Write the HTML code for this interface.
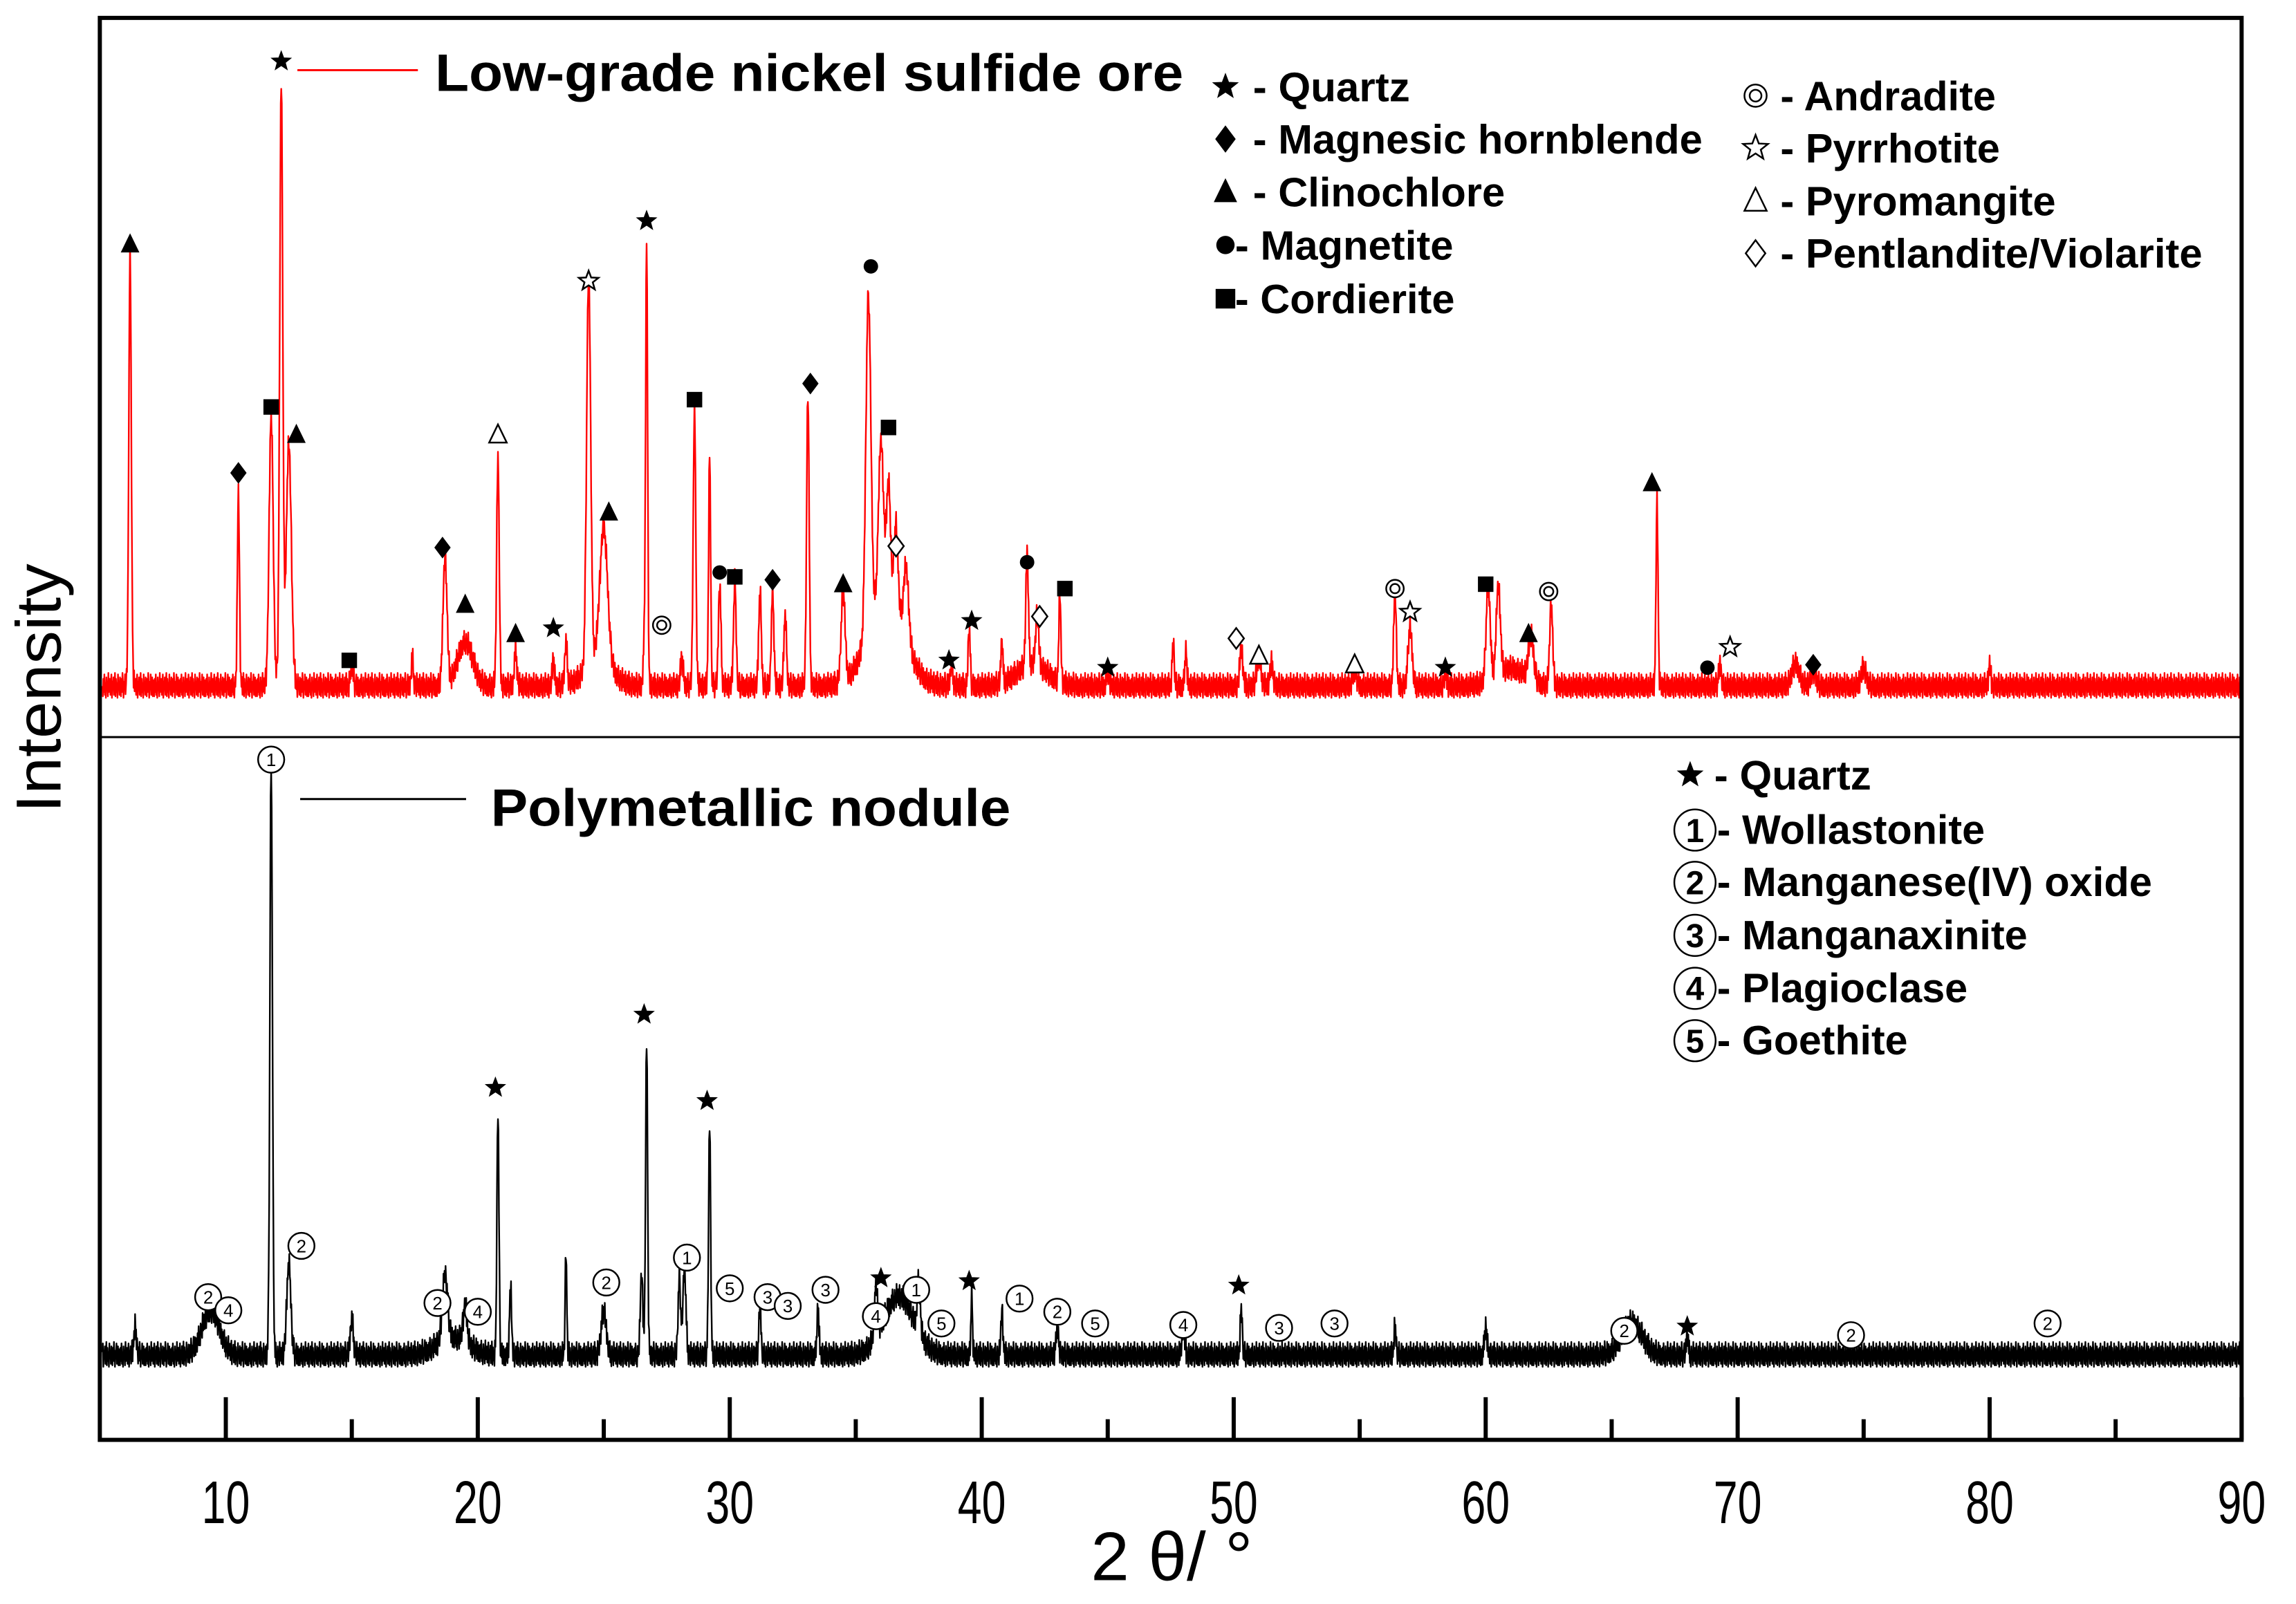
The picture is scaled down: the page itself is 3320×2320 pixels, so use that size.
<!DOCTYPE html>
<html><head><meta charset="utf-8"><style>
html,body{margin:0;padding:0;background:#fff;}
svg{display:block;}
text{font-family:"Liberation Sans Narrow","Liberation Sans",sans-serif;}
</style></head><body>
<svg id="chart" width="3320" height="2320" viewBox="0 0 3320 2320" xmlns="http://www.w3.org/2000/svg">
<g transform="scale(0.9955)">
<g id="plot"></g>
<rect x="145" y="26" width="3111" height="2066" fill="none" stroke="#000" stroke-width="6"/>
<line x1="145" y1="1071" x2="3256" y2="1071" stroke="#000" stroke-width="3"/>
<g id="xaxis"></g>
<text x="1702" y="2296" font-size="100" text-anchor="middle" textLength="235" lengthAdjust="spacingAndGlyphs" font-family="Liberation Sans, sans-serif">2 θ/ °</text>
<text x="0" y="0" font-size="92" text-anchor="middle" transform="translate(88,1000) rotate(-90)" textLength="362" lengthAdjust="spacingAndGlyphs" font-family="Liberation Sans, sans-serif">Intensity</text>
<g font-weight="bold">
 <line x1="432" y1="102" x2="607" y2="102" stroke="#f00" stroke-width="3"/>
 <text x="632" y="132" font-size="76" textLength="1087" lengthAdjust="spacingAndGlyphs">Low-grade nickel sulfide ore</text>
</g>
<g font-weight="bold">
 <line x1="436" y1="1161" x2="677" y2="1161" stroke="#000" stroke-width="3"/>
 <text x="713" y="1200" font-size="76" textLength="755" lengthAdjust="spacingAndGlyphs">Polymetallic nodule</text>
</g>
<g id="phaseLegend" font-weight="bold" font-size="60"></g>
<g id="marks"></g>
</g>
</svg>
<script>
const NS="http://www.w3.org/2000/svg";
// ---- data ----
const xTicks=[10,20,30,40,50,60,70,80,90];
const xMinor=[15,25,35,45,55,65,75,85];
const redPos=[6.2,10.5,11.8,12.2,12.5,15,17.4,18.7,19.5,20.8,21.5,23,23.5,24.4,25,26.6,26.7,28.1,28.6,29.2,29.6,30.2,31.2,31.7,32.2,33.1,34.5,35.5,36,36.3,36.6,37,38.8,39.5,40.8,41.8,42.2,43.1,45,47.6,48.1,50.3,51,51.5,54.8,56.4,57,58.4,60.1,60.5,61.8,62.6,66.8,69.3,72.3,73,75,80];
const redHeight=[295,133,185,413,165,15,20,87,30,157,25,20,30,267,90,25,303,20,190,158,70,72,65,65,50,200,60,230,110,80,60,50,15,40,30,78,35,60,10,30,25,25,20,15,10,65,40,8,65,60,30,55,125,15,15,10,12,15];
const redWidth=[0.05,0.04,0.08,0.06,0.1,0.05,0.04,0.08,0.3,0.05,0.05,0.04,0.05,0.08,0.15,0.04,0.04,0.05,0.05,0.04,0.05,0.05,0.05,0.05,0.05,0.05,0.08,0.1,0.1,0.08,0.08,0.1,0.05,0.04,0.04,0.05,0.06,0.04,0.05,0.04,0.04,0.06,0.08,0.06,0.08,0.05,0.08,0.05,0.08,0.08,0.1,0.06,0.04,0.05,0.15,0.1,0.1,0.04];
const redBroadPos=[36.2,24.8,42,61];
const redBroadHeight=[60,20,15,12];
const redBroadWidth=[0.7,0.5,0.6,0.6];
const blackPos=[6.4,11.8,12.5,15,18.7,19.5,20.8,21.3,23.5,25,26.5,26.7,28,28.2,29.2,31.2,33.5,35.8,37.5,39.6,40.8,43,48,50.3,56.4,60,68];
const blackHeight=[20,405,63,25,45,25,168,47,73,30,55,216,52,60,160,35,33,35,35,43,30,20,20,32,20,20,15];
const blackWidth=[0.05,0.05,0.08,0.06,0.1,0.08,0.04,0.04,0.03,0.1,0.05,0.04,0.05,0.06,0.04,0.04,0.04,0.06,0.06,0.03,0.04,0.05,0.05,0.04,0.04,0.05,0.04];
const blackBroadPos=[9.4,36.7,65.8,19];
const blackBroadHeight=[30,40,22,12];
const blackBroadWidth=[0.35,0.6,0.4,0.6];
const noise=[9,2,14,5,17,3,11,1,15,7,12,2,18,5,9,14,3,11,17,1,12,7,15,3,9,18,2,14,5,11,1,17,7,12,3,15,9,2,14,5,18,11,1,12,7,17,3,9,15,2,13];
const redMarkPos=[6.2,10.5,11.8,12.2,12.8,14.9,18.6,19.5,21.5,23,20.8,24.4,25.2,27.3,26.7,28.6,29.6,30.2,31.7,33.2,34.5,35.6,36.3,36.6,38.7,39.6,41.8,42.3,43.3,45,50.1,51,54.8,56.4,57,58.4,60,61.7,62.5,66.6,68.8,69.7,73];
const redMarkType=["tri","dia","sq","star","tri","sq","dia","tri","tri","star","otri","ostar","tri","dcirc","star","sq","dot","sq","dia","dia","tri","dot","sq","odia","star","star","dot","odia","sq","star","odia","otri","otri","dcirc","ostar","star","sq","tri","dcirc","tri","dot","ostar","dia"];
const redMarkLevel=[304,148,193,429,174,20,97,58,38,42,174,279,121,44,320,198,80,77,75,209,72,289,179,98,20,47,87,50,69,15,35,23,17,69,53,15,72,38,67,141,15,29,17];
const blackMarkPos=[9.3,10.1,11.8,13,18.4,20,25.1,28.3,30,31.5,32.3,33.8,35.8,37.4,38.4,41.5,43,44.5,48,51.8,54,65.5,74.5,82.3];
const blackMarkNum=["2","4","1","2","2","4","2","1","5","3","3","3","4","1","5","1","2","5","4","3","3","2","2","2"];
const blackMarkLevel=[42,33,409,77,38,32,52,69,48,42,36,47,29,47,24,41,32,24,23,21,24,19,16,24];
const blackStarPos=[20.7,26.6,29.1,36,39.5,50.2,68];
const blackStarLevel=[185,235,176,55,53,50,22];
// ---- scales ----
const S=2.128;
const X=v=>145+(v-5)*(3111/85);
const Yred=v=>1016-v*S;
const Yblk=v=>1988-v*S;
function mk(tag,attrs,parent){const e=document.createElementNS(NS,tag);for(const k in attrs)e.setAttribute(k,attrs[k]);parent.appendChild(e);return e;}
function curve(pos,h,w,bp,bh,bw,x){
  let y=0;
  for(let i=0;i<pos.length;i++){const d=(x-pos[i])/w[i];if(Math.abs(d)<6)y+=h[i]*Math.exp(-0.5*d*d);}
  for(let i=0;i<bp.length;i++){const d=(x-bp[i])/bw[i];if(Math.abs(d)<6)y+=bh[i]*Math.exp(-0.5*d*d);}
  return y;
}
const plot=document.getElementById('plot');
function drawSeries(name,color,Y,pos,h,w,bp,bh,bw,offset){
  let d="";let k=0;
  for(let x=5.1;x<=90;x+=0.02){
    const n=noise[(k+offset)%noise.length];k++;
    const y=curve(pos,h,w,bp,bh,bw,x)+n;
    d+=(d?"L":"M")+X(x).toFixed(1)+","+Y(y).toFixed(1);
  }
  const p=mk('path',{d:d,fill:'none',stroke:color,'stroke-width':2.4,'stroke-linejoin':'round'},plot);
  
  
}
drawSeries('red-pattern','#f00',Yred,redPos,redHeight,redWidth,redBroadPos,redBroadHeight,redBroadWidth,0);
drawSeries('black-pattern','#000',Yblk,blackPos,blackHeight,blackWidth,blackBroadPos,blackBroadHeight,blackBroadWidth,17);
// ---- axis ----
const xa=document.getElementById('xaxis');
xTicks.forEach(t=>{
  const l=mk('line',{x1:X(t),x2:X(t),y1:2092,y2:2030,stroke:'#000','stroke-width':6},xa);
  
  
  const tx=mk('text',{x:X(t),y:2213,'font-size':88,'text-anchor':'middle',textLength:t>=10?70:35,lengthAdjust:'spacingAndGlyphs'},xa);
  tx.textContent=t;
  
  
});
xMinor.forEach(t=>{
  const l=mk('line',{x1:X(t),x2:X(t),y1:2092,y2:2062,stroke:'#000','stroke-width':6},xa);
  
  
});
// ---- symbols ----
function sym(type,cx,cy,r,parent){
  const g=mk('g',{},parent);
  if(type==='star'||type==='ostar'){
    let pts=[];for(let i=0;i<10;i++){const a=-Math.PI/2+i*Math.PI/5;const rr=i%2?r*0.42:r;pts.push((cx+rr*Math.cos(a)).toFixed(1)+","+(cy+rr*Math.sin(a)).toFixed(1));}
    mk('polygon',{points:pts.join(' '),fill:type==='star'?'#000':'#fff',stroke:'#000','stroke-width':type==='star'?1:2.5},g);
  }else if(type==='tri'||type==='otri'){
    mk('polygon',{points:`${cx},${cy-r} ${cx-r*0.85},${cy+r*0.75} ${cx+r*0.85},${cy+r*0.75}`,fill:type==='tri'?'#000':'#fff',stroke:'#000','stroke-width':type==='tri'?1:2.5},g);
  }else if(type==='dia'||type==='odia'){
    mk('polygon',{points:`${cx},${cy-r} ${cx-r*0.75},${cy} ${cx},${cy+r} ${cx+r*0.75},${cy}`,fill:type==='dia'?'#000':'#fff',stroke:'#000','stroke-width':type==='dia'?1:2.5},g);
  }else if(type==='sq'){
    mk('rect',{x:cx-r*0.75,y:cy-r*0.75,width:r*1.5,height:r*1.5,fill:'#000'},g);
  }else if(type==='dot'){
    mk('circle',{cx:cx,cy:cy,r:r*0.7,fill:'#000'},g);
  }else if(type==='dcirc'){
    mk('circle',{cx:cx,cy:cy,r:r*0.85,fill:'#fff',stroke:'#000','stroke-width':2.5},g);
    mk('circle',{cx:cx,cy:cy,r:r*0.45,fill:'none',stroke:'#000','stroke-width':2.5},g);
  }
  return g;
}
function circNum(n,cx,cy,r,fs,parent){
  const g=mk('g',{},parent);
  mk('circle',{cx:cx,cy:cy,r:r,fill:'#fff',stroke:'#000','stroke-width':2.5},g);
  const t=mk('text',{x:cx,y:cy+fs*0.36,'font-size':fs,'text-anchor':'middle','font-family':'Liberation Sans, sans-serif'},g);
  t.textContent=n;
  return g;
}
const marks=document.getElementById('marks');
redMarkPos.forEach((p,i)=>{
  const g=sym(redMarkType[i],X(p),Yred(redMarkLevel[i])-14,15,marks);
  
  
});
blackMarkPos.forEach((p,i)=>{
  const g=circNum(blackMarkNum[i],X(p),Yblk(blackMarkLevel[i])-14,19,26,marks);
  
  
});
blackStarPos.forEach((p,i)=>{
  const g=sym('star',X(p),Yblk(blackStarLevel[i])-14,15,marks);
  
  
});
// ---- phase legend ----
const pl=document.getElementById('phaseLegend');
const legA=[["star","- Quartz",1820,147,228],["dia","- Magnesic hornblende",1820,223,653],["tri","- Clinochlore",1820,300,366],["dot","- Magnetite",1794,377,317],["sq","- Cordierite",1794,455,319]];
const legB=[["dcirc","- Andradite",2586,160,313],["ostar","- Pyrrhotite",2586,236,319],["otri","- Pyromangite",2586,313,400],["odia","- Pentlandite/Violarite",2586,389,613]];
legA.forEach(r=>{
  const g=sym(r[0],1780,r[3]-21,19,pl);
  
  
  const t=mk('text',{x:r[2],y:r[3],textLength:r[4],lengthAdjust:'spacingAndGlyphs'},pl);t.textContent=r[1];
  
  
});
legB.forEach(r=>{
  const g=sym(r[0],2550,r[3]-21,19,pl);
  
  
  const t=mk('text',{x:2586,y:r[3],textLength:r[4],lengthAdjust:'spacingAndGlyphs'},pl);t.textContent=r[1];
  
  
});
const legC=[["1","- Wollastonite",1226,389],["2","- Manganese(IV) oxide",1302,632],["3","- Manganaxinite",1379,451],["4","- Plagioclase",1456,364],["5","- Goethite",1532,277]];
{
  const g=sym('star',2455,1126,19,pl);
  
  
  const t=mk('text',{x:2490,y:1147,textLength:228,lengthAdjust:'spacingAndGlyphs'},pl);t.textContent="- Quartz";
  
  
}
legC.forEach(r=>{
  const g=circNum(r[0],2462,r[2]-20,30,48,pl);
  
  
  const t=mk('text',{x:2494,y:r[2],textLength:r[3],lengthAdjust:'spacingAndGlyphs'},pl);t.textContent=r[1];
  
  
});
</script>
</body></html>
